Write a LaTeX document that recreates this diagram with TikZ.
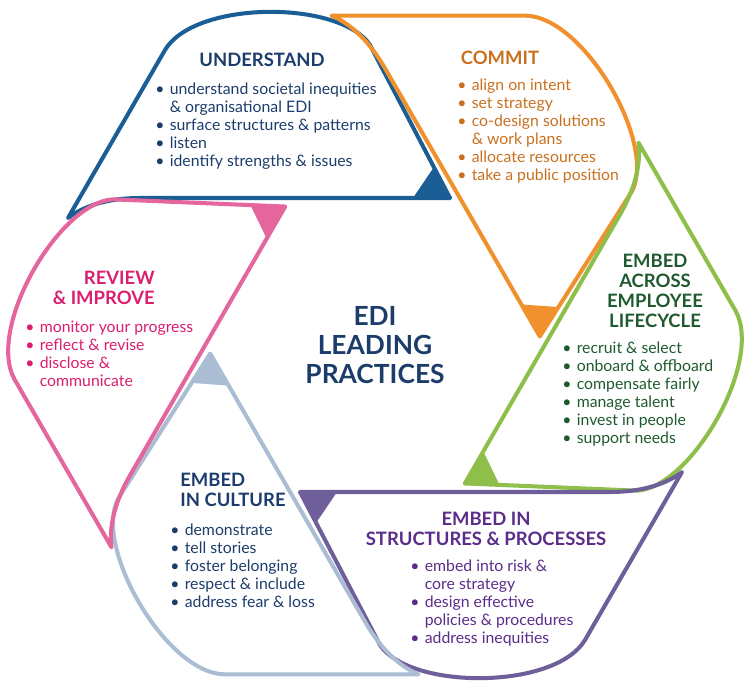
\documentclass[tikz,border=0pt]{standalone}
\usepackage{fontspec}
\setmainfont{Lato}
\usepackage{array}
\definecolor{cUnd}{HTML}{1B5E96}
\definecolor{cCom}{HTML}{F0912E}
\definecolor{cEmb}{HTML}{8DBF4A}
\definecolor{cStr}{HTML}{6E5E99}
\definecolor{cCul}{HTML}{AABDD3}
\definecolor{cRev}{HTML}{E5669C}
\definecolor{tNavy}{HTML}{1C3D6B}
\definecolor{tCom}{HTML}{C8701E}
\definecolor{tEmb}{HTML}{1F5A2E}
\definecolor{tStr}{HTML}{5B2C8A}
\definecolor{tRev}{HTML}{DB1F6E}
\newcommand{\petal}[2]{%
  \begin{scope}[shift={(375,345)},rotate=#1]
    \draw[line width=2.3pt,#2,line join=round] (75,-147) -- (-235,-147)
      .. controls (-265,-147) and (-290,-140) .. (-307,-127) -- (-210,-295)
      .. controls (-180,-345) and (-35,-345) .. (-5,-300) -- cycle;
    \fill[#2] (75,-147) -- (38,-147) -- (59,-178) -- cycle;
  \end{scope}}
\newcommand{\pts}[1]{\begin{tabular}{@{}l@{\hspace{3pt}}l@{}}#1\end{tabular}}
\tikzset{%
    head/.style={font=\bfseries\fontsize{10.5}{11.5}\selectfont,align=center,inner sep=0pt},
    items/.style={font=\fontsize{9}{10.3}\selectfont,anchor=north west,inner sep=0pt},
}
\begin{document}
\begin{tikzpicture}[x=0.02cm,y=-0.02cm]
        \useasboundingbox (0,0) rectangle (750,686);
        \petal{0}{cUnd}
        \petal{-60}{cCom}
        \petal{-120}{cEmb}
        \petal{-180}{cStr}
        \petal{-240}{cCul}
        \petal{-300}{cRev}

        \node[head,tNavy,font=\bfseries\fontsize{15}{16.5}\selectfont] (title) at (375,345) {EDI\\LEADING\\PRACTICES};

        \node[head,tNavy] (und) at (262,60) {UNDERSTAND};
        \node[items,tNavy] (undl) at (155,81) {\pts{\textbullet & understand societal inequities\\ & \& organisational EDI\\ \textbullet & surface structures \& patterns\\ \textbullet & listen\\ \textbullet & identify strengths \& issues}};

        \node[head,tCom] (com) at (500,58) {COMMIT};
        \node[items,tCom] (coml) at (457,77) {\pts{\textbullet & align on intent\\ \textbullet & set strategy\\ \textbullet & co-design solutions\\ & \& work plans\\ \textbullet & allocate resources\\ \textbullet & take a public position}};

        \node[head,tEmb] (emb) at (655,291) {EMBED\\ACROSS\\EMPLOYEE\\LIFECYCLE};
        \node[items,tEmb] (embl) at (562,340) {\pts{\textbullet & recruit \& select\\ \textbullet & onboard \& offboard\\ \textbullet & compensate fairly\\ \textbullet & manage talent\\ \textbullet & invest in people\\ \textbullet & support needs}};

        \node[head,tStr] (str) at (486,529) {EMBED IN\\STRUCTURES \& PROCESSES};
        \node[items,tStr] (strl) at (410,558) {\pts{\textbullet & embed into risk \&\\ & core strategy\\ \textbullet & design effective\\ & policies \& procedures\\ \textbullet & address inequities}};

        \node[head,tNavy,align=left,anchor=west] (cul) at (180,490) {EMBED\\IN CULTURE};
        \node[items,tNavy] (cull) at (170,522) {\pts{\textbullet & demonstrate\\ \textbullet & tell stories\\ \textbullet & foster belonging\\ \textbullet & respect \& include\\ \textbullet & address fear \& loss}};

        \node[head,tRev,align=right,anchor=east] (rev) at (155,288) {REVIEW\\\& IMPROVE};
        \node[items,tRev] (revl) at (25,319) {\pts{\textbullet & monitor your progress\\ \textbullet & reflect \& revise\\ \textbullet & disclose \&\\ & communicate}};
\end{tikzpicture}
\end{document}
